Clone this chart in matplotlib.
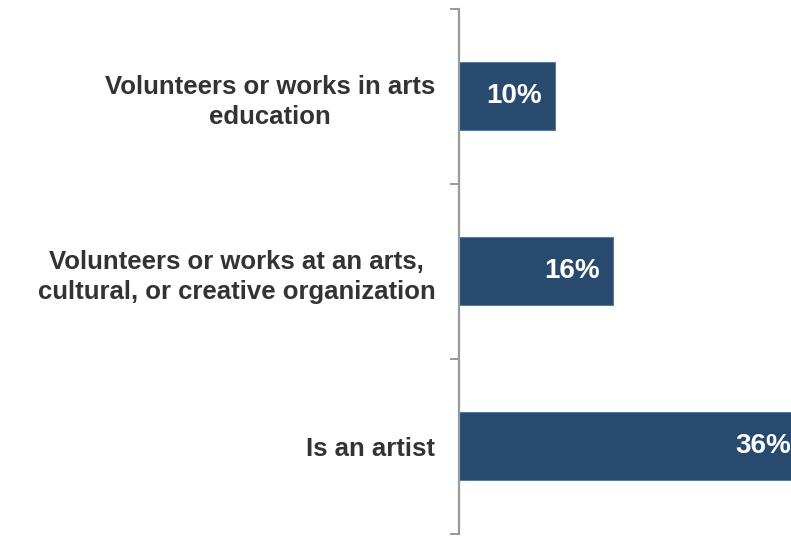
import numpy as np
import matplotlib
matplotlib.use("Agg")
import matplotlib.pyplot as plt

# --- Chart data ---
categories = [
    "Volunteers or works in arts\neducation",
    "Volunteers or works at an arts,\ncultural, or creative organization",
    "Is an artist",
]
values = [10, 16, 36]
value_labels = ["10%", "16%", "36%"]

# --- Styling ---
BAR_COLOR = "#274a6e"
EDGE_COLOR = "#5b7ba0"
AXIS_GRAY = "#9a9a9a"
TEXT_DARK = "#333333"

plt.rcParams["font.family"] = ["Liberation Sans", "DejaVu Sans"]

W, H = 791, 536
fig = plt.figure(figsize=(W / 100, H / 100), dpi=100)

# axes box in pixels: left spine at x=459, ticks span y=8.5..533.5
left_px, right_px = 459, W
top_px, bottom_px = 8.5, 533.5
ax = fig.add_axes([left_px / W, (H - bottom_px) / H,
                   (right_px - left_px) / W, (bottom_px - top_px) / H])

px_per_unit = 9.6  # 96 px for 10 %
ax.set_xlim(0, (right_px - left_px) / px_per_unit)
ax.set_ylim(len(categories) - 0.5, -0.5)

y = np.arange(len(categories))
ax.barh(y, values, height=0.39, color=BAR_COLOR, edgecolor=EDGE_COLOR,
        linewidth=0.8, clip_on=False)

# value labels, right-aligned ~13 px inside the bar end
for yi, v, lab in zip(y, values, value_labels):
    ax.annotate(lab, xy=(v, yi), xytext=(-9.4, 0), textcoords="offset points",
                ha="right", va="center", color="white", fontsize=20,
                fontweight="bold", annotation_clip=False)

# spines and ticks
for side in ["top", "right", "bottom"]:
    ax.spines[side].set_visible(False)
ax.spines["left"].set_color(AXIS_GRAY)
ax.spines["left"].set_linewidth(1.6)
ax.set_xticks([])

# boundary ticks between categories
ax.set_yticks(np.arange(-0.5, len(categories), 1.0))
ax.set_yticklabels([])
ax.tick_params(axis="y", which="major", direction="out", length=6.5,
               width=1.4, color=AXIS_GRAY)

# category labels at bar centers
ax.set_yticks(y, minor=True)
ax.set_yticklabels(categories, minor=True)
ax.tick_params(axis="y", which="minor", length=0, pad=17)
for t in ax.get_yticklabels(minor=True):
    t.set_fontsize(18.5)
    t.set_fontweight("bold")
    t.set_color(TEXT_DARK)
    t.set_multialignment("center")
    t.set_linespacing(1.32)

fig.savefig("out.png", dpi=100)
